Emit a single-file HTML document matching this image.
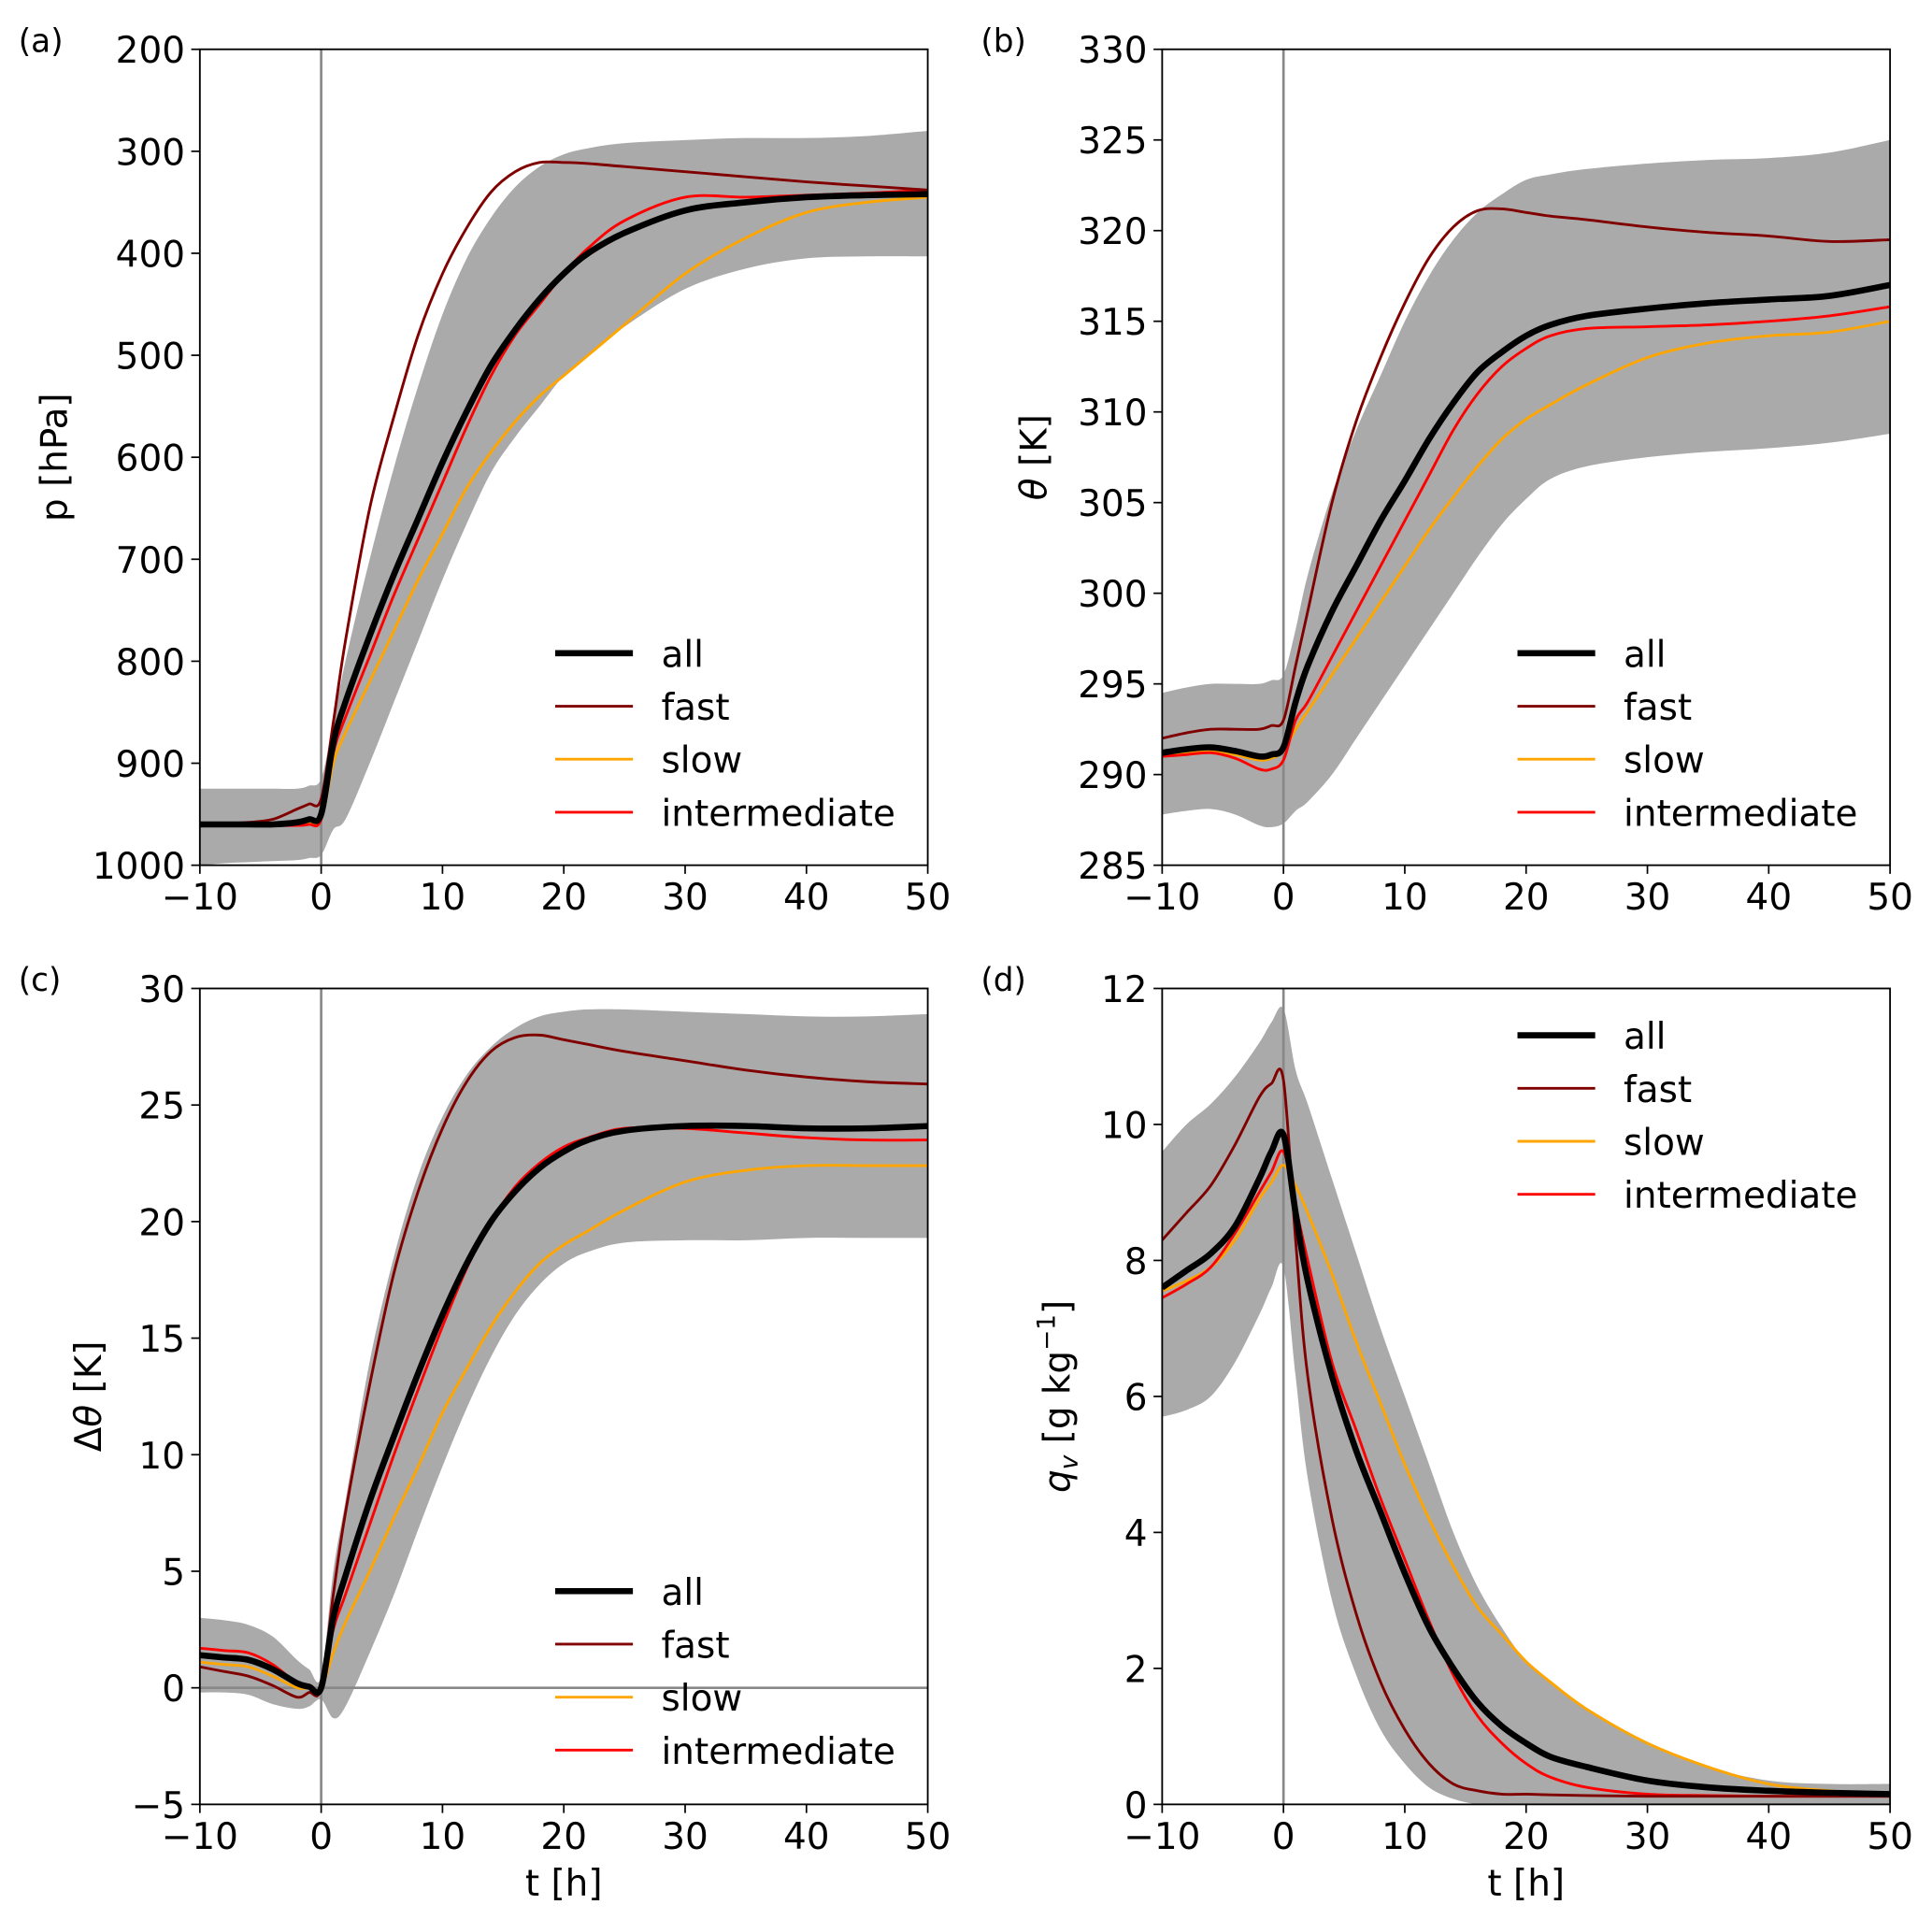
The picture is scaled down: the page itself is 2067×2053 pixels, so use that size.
<!DOCTYPE html>
<html><head><meta charset="utf-8"><style>
html,body{margin:0;padding:0;background:#fff;}
svg{display:block;font-family:"DejaVu Sans","Liberation Sans",sans-serif;}
</style></head><body>
<svg id="fig" width="2067" height="2053" viewBox="0 0 1566 1557" preserveAspectRatio="none" xmlns="http://www.w3.org/2000/svg"></svg>
<script>
const T = [-10,-8,-6,-4,-2,-1,0,1,2,4,6,8,10,12,14,16,18,20,22,25,30,35,40,45,50];
const seriesNames = ["all","fast","slow","intermediate"];
const aAll  = [960,960,960,960,958,955,950,880,840,775,715,660,605,555,510,475,445,420,400,380,358,350,345,343,342];
const aFast = [960,959,958,955,945,940,935,860,780,650,560,480,420,375,340,320,311,311,312,315,320,325,330,334,338];
const aSlow = [960,960,960,960,959,958,955,900,870,820,770,720,675,630,595,565,540,520,500,470,420,385,360,350,345];
const aInt  = [960,960,961,961,961,960,955,890,855,795,735,680,625,570,520,480,450,420,395,368,345,345,343,341,338];
const aUp   = [925,925,925,925,925,922,915,860,800,700,610,530,460,405,365,335,315,303,297,292,289,287,287,285,280];
const aLo   = [1000,998,997,996,995,993,990,965,955,900,840,780,720,665,615,580,550,520,500,472,435,415,405,403,403];
const bAll  = [291.2,291.4,291.5,291.3,291.0,291.1,291.5,294,296,299,301.5,304,306.2,308.5,310.5,312.2,313.3,314.2,314.8,315.3,315.7,316,316.2,316.4,317];
const bFast = [292,292.3,292.5,292.5,292.5,292.7,293,296,299,305,309.5,313,316,318.5,320.2,321.1,321.2,321,320.8,320.6,320.2,319.9,319.7,319.4,319.5];
const bSlow = [291,291.2,291.3,291.1,290.8,290.9,291.3,292.5,293.5,295.5,297.5,299.5,301.5,303.5,305.3,307,308.5,309.6,310.4,311.5,313,313.8,314.2,314.4,315];
const bInt  = [291,291.1,291.2,290.9,290.3,290.3,290.8,293,294,296.5,299,301.5,304,306.5,309,311,312.5,313.5,314.2,314.6,314.7,314.8,315,315.3,315.8];
const bUp   = [294.5,294.8,295,295,295,295.2,295.5,298,301,305.5,309,312,315,317.5,319.5,321,322,322.8,323.1,323.4,323.7,323.9,324,324.3,325];
const bLo   = [287.8,288,288.1,287.8,287.2,287.1,287.3,288,288.5,290,292,294,296,298,300,302,303.8,305.2,306.3,307,307.5,307.8,308,308.3,308.8];
const cAll  = [1.4,1.3,1.2,0.8,0.2,0.05,0,3,4.8,8,10.8,13.5,16,18.2,20,21.3,22.3,23,23.5,23.9,24.1,24.1,24,24,24.1];
const cFast = [0.9,0.7,0.5,0.1,-0.4,-0.2,0,4,7.5,13,17.8,21.3,24,26,27.3,27.9,28,27.8,27.6,27.3,26.9,26.5,26.2,26,25.9];
const cSlow = [1.1,1,0.9,0.5,0,0,0,1.5,2.8,5,7.3,9.5,11.8,13.7,15.5,17,18.2,19,19.6,20.5,21.7,22.2,22.4,22.4,22.4];
const cInt  = [1.7,1.6,1.5,1,0.2,0.05,0,2.5,4,7,10,12.8,15.5,18,20,21.5,22.5,23.2,23.6,24,24,23.8,23.6,23.5,23.5];
const cUp   = [3,2.9,2.7,2.2,1.2,0.8,0.5,5,8,14,18.5,22,24.5,26.3,27.5,28.3,28.8,29,29.1,29.1,29,28.9,28.8,28.8,28.9];
const cLo   = [-0.2,-0.2,-0.3,-0.7,-0.9,-0.8,-0.5,-1.3,-0.8,1.5,4,6.8,9.5,12,14.2,16,17.3,18.2,18.7,19.1,19.2,19.2,19.3,19.3,19.3];
const dAll  = [7.6,7.85,8.1,8.5,9.2,9.6,9.85,8.7,7.7,6.3,5.2,4.3,3.4,2.6,2.0,1.5,1.15,0.9,0.7,0.55,0.35,0.25,0.2,0.17,0.15];
const dFast = [8.3,8.7,9.1,9.7,10.4,10.6,10.65,8.3,6.3,4.2,2.8,1.8,1.1,0.6,0.3,0.2,0.15,0.15,0.14,0.13,0.12,0.12,0.12,0.12,0.12];
const dSlow = [7.55,7.7,7.9,8.3,8.9,9.15,9.4,9.1,8.7,7.8,6.8,5.9,5.0,4.2,3.5,2.9,2.5,2.1,1.8,1.4,0.9,0.55,0.3,0.2,0.15];
const dInt  = [7.45,7.65,7.9,8.4,9.0,9.3,9.6,8.8,8.0,6.5,5.5,4.5,3.6,2.7,1.9,1.3,0.9,0.6,0.4,0.25,0.15,0.13,0.12,0.12,0.12];
const dUp   = [9.6,10,10.3,10.7,11.2,11.5,11.7,10.8,10.3,9.2,8.1,7.0,6.0,5.0,4.0,3.2,2.6,2.1,1.8,1.4,0.9,0.55,0.35,0.3,0.3];
const dLo   = [5.7,5.8,6.0,6.5,7.2,7.6,7.9,6.3,4.8,3.0,1.9,1.1,0.6,0.25,0.08,0,0,0,0,0,0,0,0,0,0];
const xTicks = [-10,0,10,20,30,40,50];
const aTicks = [200,300,400,500,600,700,800,900,1000];
const bTicks = [285,290,295,300,305,310,315,320,325,330];
const cTicks = [-5,0,5,10,15,20,25,30];
const dTicks = [0,2,4,6,8,10,12];

const NS="http://www.w3.org/2000/svg";
const svg=document.getElementById('fig');
function mk(tag,attrs,parent){const e=document.createElementNS(NS,tag);for(const k in attrs)e.setAttribute(k,attrs[k]);(parent||svg).appendChild(e);return e;}
const colors={all:"#000000",fast:"#800000",slow:"#ffa500",intermediate:"#ff0000"};
const widths={all:5,fast:2.2,slow:2.2,intermediate:2.2};
const FS=29.5;

function smoothPath(pts){
  let d="M"+pts[0][0].toFixed(2)+","+pts[0][1].toFixed(2);
  for(let i=0;i<pts.length-1;i++){
    const p0=pts[Math.max(i-1,0)],p1=pts[i],p2=pts[i+1],p3=pts[Math.min(i+2,pts.length-1)];
    const c1=[p1[0]+(p2[0]-p0[0])/6,p1[1]+(p2[1]-p0[1])/6];
    const c2=[p2[0]-(p3[0]-p1[0])/6,p2[1]-(p3[1]-p1[1])/6];
    d+="C"+c1[0].toFixed(2)+","+c1[1].toFixed(2)+" "+c2[0].toFixed(2)+","+c2[1].toFixed(2)+" "+p2[0].toFixed(2)+","+p2[1].toFixed(2);
  }
  return d;
}

function panel(cfg){
  const L=cfg.x,R=cfg.x+590,Tp=cfg.y,B=cfg.y+662;
  const g=mk('g',{});
  
  
  const xs=t=>L+(t+10)/60*(R-L);
  const ys=v=>cfg.inv? Tp+(v-cfg.y0)/(cfg.y1-cfg.y0)*(B-Tp) : B-(v-cfg.y0)/(cfg.y1-cfg.y0)*(B-Tp);
  const cid='clip-'+cfg.id;
  const cp=mk('clipPath',{id:cid},g);mk('rect',{x:L,y:Tp,width:R-L,height:B-Tp},cp);
  const plot=mk('g',{'clip-path':'url(#'+cid+')'},g);
  const up=T.map((t,i)=>[xs(t),ys(cfg.up[i])]);
  const lo=T.map((t,i)=>[xs(t),ys(cfg.lo[i])]).reverse();
  const dUpP=smoothPath(up), dLoP=smoothPath(lo).replace(/^M/,'L');
  const band=mk('path',{d:dUpP+dLoP+'Z',fill:'#aaaaaa',stroke:'none'},plot);
  
  
  const vl=mk('line',{x1:xs(0),x2:xs(0),y1:Tp,y2:B,stroke:'#888',"stroke-width":2},plot);
  
  
  if(cfg.hzero){const hl=mk('line',{x1:L,x2:R,y1:ys(0),y2:ys(0),stroke:'#888',"stroke-width":2},plot);
    
    }
  const order=["slow","intermediate","fast","all"];
  order.forEach(n=>{
    const vals=cfg.series[n];
    const p=mk('path',{d:smoothPath(T.map((t,i)=>[xs(t),ys(vals[i])])),fill:'none',stroke:colors[n],"stroke-width":widths[n],"stroke-linejoin":"round"},plot);
    
    
  });
  mk('rect',{x:L,y:Tp,width:R-L,height:B-Tp,fill:'none',stroke:'#000',"stroke-width":1.4},g);
  xTicks.forEach(t=>{
    mk('line',{x1:xs(t),x2:xs(t),y1:B,y2:B+7,stroke:'#000',"stroke-width":1.3},g);
    const tx=mk('text',{x:xs(t),y:B+36,"text-anchor":"middle","font-size":FS},g);
    tx.textContent=t<0?'\u2212'+(-t):String(t);
    
    
  });
  cfg.ticks.forEach(v=>{
    mk('line',{x1:L-7,x2:L,y1:ys(v),y2:ys(v),stroke:'#000',"stroke-width":1.3},g);
    const tx=mk('text',{x:L-12,y:ys(v)+11,"text-anchor":"end","font-size":FS},g);
    tx.textContent=v<0?'\u2212'+(-v):String(v);
    
    
  });
  const pl=mk('text',{x:L-147,y:Tp+2,"font-size":26},g);pl.textContent='('+cfg.id+')';
  
  
  const yt=mk('text',{x:0,y:0,"text-anchor":"middle","font-size":FS,transform:'translate('+(L-cfg.ytx)+','+((Tp+B)/2)+') rotate(-90)'},g);
  yt.innerHTML=cfg.ytitle;
  
  
  if(cfg.xtitle){const xt=mk('text',{x:(L+R)/2,y:B+74,"text-anchor":"middle","font-size":FS},g);xt.textContent='t [h]';
    
    }
  seriesNames.forEach((n,i)=>{
    const ly=cfg.ly+i*43;
    const lg=mk('g',{},g);
    
    
    mk('line',{x1:L+288,x2:L+351,y1:ly,y2:ly,stroke:colors[n],"stroke-width":widths[n]},lg);
    const lt=mk('text',{x:L+374,y:ly+11,"font-size":FS},lg);lt.textContent=n;
  });
}
panel({id:'a',x:162,y:40,inv:true,y0:200,y1:1000,ticks:aTicks,up:aUp,lo:aLo,series:{all:aAll,fast:aFast,slow:aSlow,intermediate:aInt},ytitle:'p [hPa]',ytx:108,ly:530});
panel({id:'b',x:942,y:40,y0:285,y1:330,ticks:bTicks,up:bUp,lo:bLo,series:{all:bAll,fast:bFast,slow:bSlow,intermediate:bInt},ytitle:'<tspan font-style="italic">θ</tspan> [K]',ytx:94,ly:530});
panel({id:'c',x:162,y:802,y0:-5,y1:30,ticks:cTicks,up:cUp,lo:cLo,series:{all:cAll,fast:cFast,slow:cSlow,intermediate:cInt},ytitle:'Δ<tspan font-style="italic">θ</tspan> [K]',ytx:80,ly:1291,xtitle:true,hzero:true});
panel({id:'d',x:942,y:802,y0:0,y1:12,ticks:dTicks,up:dUp,lo:dLo,series:{all:dAll,fast:dFast,slow:dSlow,intermediate:dInt},ytitle:'<tspan font-style="italic">q</tspan><tspan font-style="italic" font-size="20" dy="6">v</tspan><tspan dy="-6"> [g kg</tspan><tspan font-size="20" dy="-12">−1</tspan><tspan dy="12">]</tspan>',ytx:75,ly:840,xtitle:true});
</script>
</body></html>
